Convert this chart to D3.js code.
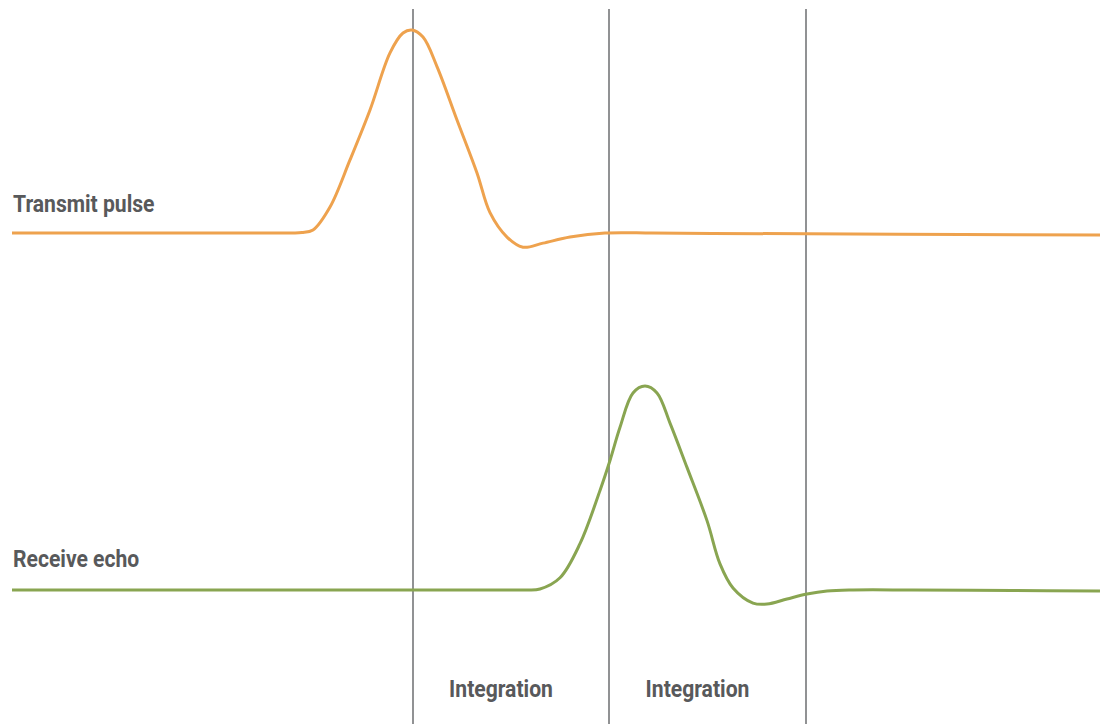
<!DOCTYPE html>
<html>
<head>
<meta charset="utf-8">
<script src="https://cdn.jsdelivr.net/npm/d3@7"></script>
<style>
  body { margin: 0; background: #fff; }
  .label { font-family: "Roboto", "Liberation Sans", sans-serif; font-weight: bold; fill: #58595b; }
</style>
</head>
<body>
<svg id="chart" width="1102" height="724"></svg>
<script>
// time position of samples (same units as x domain)
const pulseT = [0, 150, 250, 280, 290, 301, 318, 338, 358, 378, 391, 400, 411, 425, 445, 465, 478, 495, 511, 531, 558, 593, 640, 700, 794, 950, 1088];
const pulseV = [0, 0, 0, 0, 0.002, 0.015, 0.128, 0.36, 0.606, 0.887, 0.985, 1.0, 0.965, 0.82, 0.557, 0.296, 0.10, -0.02, -0.07, -0.05, -0.02, 0, 0, -0.002, -0.004, -0.007, -0.01];

const echoT = [0, 200, 400, 490, 515, 528, 548, 568, 588, 598, 608, 621, 633, 645, 658, 675, 695, 708, 721, 741, 755, 775, 795, 815, 841, 900, 1000, 1088];
const echoV = [0, 0, 0, 0, 0, 0.005, 0.06, 0.227, 0.488, 0.635, 0.798, 0.966, 1.0, 0.966, 0.818, 0.601, 0.34, 0.128, 0.01, -0.064, -0.069, -0.044, -0.02, -0.005, 0, 0, -0.002, -0.005];

// gate edges and labels
const gates = [401, 597, 794];
const gateLabels = ["Integration", "Integration"];
const trackLabels = ["Transmit pulse", "Receive echo"];

const svg = d3.select('#chart');
const width = +svg.attr('width');
const height = +svg.attr('height');

const x = d3.scaleLinear().domain([0, 1088]).range([12, 1100]);
const yPulse = d3.scaleLinear().domain([0, 1]).range([233, 30]);
const yEcho = d3.scaleLinear().domain([0, 1]).range([590, 386]);

// vertical gate lines
svg.selectAll('line.gate')
    .data(gates)
    .enter().append('line')
        .attr('class', 'gate')
        .attr('x1', d => x(d)).attr('x2', d => x(d))
        .attr('y1', 9).attr('y2', height)
        .attr('stroke', '#6d6e71')
        .attr('stroke-width', 1.5);

const drawWave = (t, v, y, color) => {
    const line = d3.line()
        .x(d => x(d[0]))
        .y(d => y(d[1]))
        .curve(d3.curveCatmullRom.alpha(0.5));
    svg.append('path')
        .datum(d3.zip(t, v))
        .attr('d', line)
        .attr('fill', 'none')
        .attr('stroke', color)
        .attr('stroke-width', 3);
};

drawWave(pulseT, pulseV, yPulse, '#eea24e');
drawWave(echoT, echoV, yEcho, '#89a551');

// condensed look: squeeze the text horizontally
const squeeze = 0.88;

svg.selectAll('text.track')
    .data(trackLabels)
    .enter().append('text')
        .attr('class', 'label track')
        .attr('transform', (d, i) => `translate(13,${i === 0 ? 212 : 567}) scale(${squeeze},1)`)
        .attr('font-size', 24)
        .text(d => d);

svg.selectAll('text.gateLabel')
    .data(gateLabels)
    .enter().append('text')
        .attr('class', 'label gateLabel')
        .attr('transform', (d, i) => `translate(${(x(gates[i]) + x(gates[i + 1])) / 2 - 10},697) scale(${squeeze},1)`)
        .attr('text-anchor', 'middle')
        .attr('font-size', 24)
        .text(d => d);
</script>
</body>
</html>
